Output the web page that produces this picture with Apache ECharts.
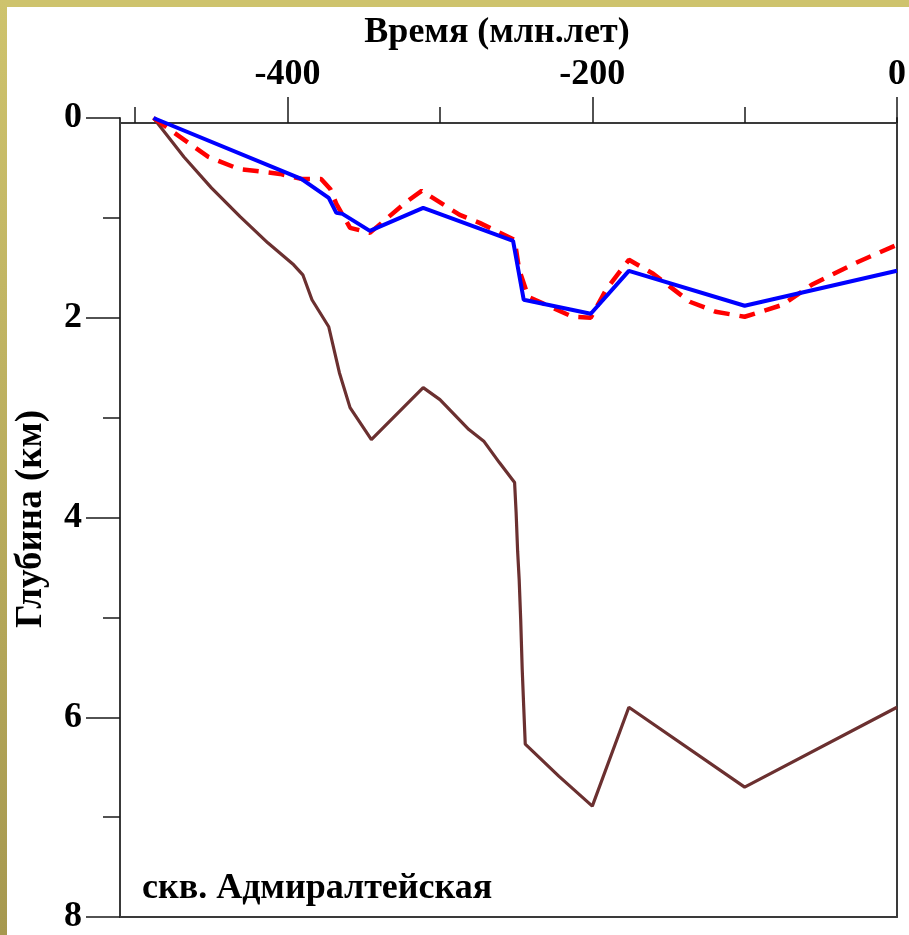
<!DOCTYPE html>
<html>
<head>
<meta charset="utf-8">
<script src="https://cdn.jsdelivr.net/npm/echarts@6/dist/echarts.min.js"></script>
<style>
html,body{margin:0;padding:0;background:#fff;}
#chart{width:909px;height:935px;}
</style>
</head>
<body>
<div id="chart"></div>
<script>
// ---- data (time in Ma, depth in km) ----
var xMajorTicks = [-400, -200, 0];
var xMinorTicks = [-500, -300, -100];
var yMajorTicks = [0, 2, 4, 6, 8];
var yMinorTicks = [1, 3, 5, 7];

var blueSeries = [
  [-488, 0], [-391, 0.61], [-373, 0.80], [-368, 0.95], [-364, 0.96], [-346, 1.13],
  [-311, 0.90], [-252, 1.23], [-245, 1.82], [-201, 1.96], [-176, 1.53], [-100, 1.88], [0, 1.53]
];
var redSeries = [
  [-488, 0], [-452, 0.39], [-432, 0.51], [-405, 0.56], [-391, 0.61], [-378, 0.61],
  [-372, 0.71], [-368, 0.86], [-359, 1.10], [-346, 1.15], [-322, 0.84], [-312, 0.73],
  [-287, 0.97], [-274, 1.05], [-251, 1.22], [-248, 1.52], [-242, 1.79], [-213, 1.99],
  [-201, 2.00], [-191, 1.72], [-176, 1.42], [-160, 1.56], [-136, 1.84], [-119, 1.94],
  [-100, 1.99], [-75, 1.87], [-56, 1.67], [-27, 1.45], [0, 1.27]
];
var brownSeries = [
  [-488, 0], [-468, 0.39], [-450, 0.70], [-431, 0.99], [-413, 1.25], [-396, 1.47],
  [-390, 1.57], [-384, 1.82], [-373, 2.09], [-366, 2.55], [-359, 2.90], [-345, 3.22],
  [-311, 2.70], [-300, 2.82], [-281, 3.12], [-271, 3.24], [-261, 3.45], [-251, 3.65],
  [-250, 3.95], [-249, 4.34], [-248, 4.62], [-247, 5.02], [-246, 5.52], [-245, 5.90],
  [-244, 6.27], [-222, 6.59], [-200, 6.89], [-176, 5.90], [-100, 6.70], [0, 5.90]
];
var xTitle = 'Время (млн.лет)';
var yTitle = 'Глубина (км)';
var wellLabel = 'скв. Адмиралтейская';

var FONT = "'Liberation Serif', 'Times New Roman', serif";
var chart = echarts.init(document.getElementById('chart'), null, {renderer: 'canvas'});

var AXIS_LINE = {show: true, onZero: false, lineStyle: {color: '#3a3a3a', width: 2}};
var NO_LINE = {show: false, onZero: false};
var TICK_STYLE = {color: '#1a1a1a', width: 1.5};
var LABEL_FONT = {fontFamily: FONT, fontWeight: 'bold', fontSize: 36, color: '#000'};

var xRange = {min: -510, max: 0};
var option = {
  backgroundColor: '#ffffff',
  animation: false,
  grid: {left: 120, right: 10.7, top: 118, bottom: 18, containLabel: false},
  xAxis: [
    {
      type: 'value', position: 'top', min: xRange.min, max: xRange.max, offset: -5,
      axisLine: AXIS_LINE,
      axisTick: {show: true, customValues: xMajorTicks, length: 26, lineStyle: TICK_STYLE},
      axisLabel: Object.assign({show: true, customValues: xMajorTicks, margin: 30}, LABEL_FONT),
      splitLine: {show: false}
    },
    {
      type: 'value', position: 'top', min: xRange.min, max: xRange.max, offset: -5,
      axisLine: NO_LINE,
      axisTick: {show: true, customValues: xMinorTicks, length: 16, lineStyle: TICK_STYLE},
      axisLabel: {show: false},
      splitLine: {show: false}
    },
    {
      type: 'value', position: 'bottom', min: xRange.min, max: xRange.max,
      axisLine: AXIS_LINE,
      axisTick: {show: false}, axisLabel: {show: false}, splitLine: {show: false}
    }
  ],
  yAxis: [
    {
      type: 'value', inverse: true, min: 0, max: 8, position: 'left',
      axisLine: AXIS_LINE,
      axisTick: {show: true, customValues: yMajorTicks, length: 34, lineStyle: TICK_STYLE},
      axisLabel: Object.assign({show: true, customValues: yMajorTicks, margin: 38}, LABEL_FONT),
      splitLine: {show: false}
    },
    {
      type: 'value', inverse: true, min: 0, max: 8, position: 'left',
      axisLine: NO_LINE,
      axisTick: {show: true, customValues: yMinorTicks, length: 17, lineStyle: TICK_STYLE},
      axisLabel: {show: false}, splitLine: {show: false}
    },
    {
      type: 'value', inverse: true, min: 0, max: 8, position: 'right',
      axisLine: AXIS_LINE,
      axisTick: {show: false}, axisLabel: {show: false}, splitLine: {show: false}
    }
  ],
  series: [
    {type: 'line', name: 'brown', data: brownSeries, xAxisIndex: 0, yAxisIndex: 0,
      showSymbol: false, lineStyle: {color: '#6b3030', width: 3.2}, z: 2},
    {type: 'line', name: 'red', data: redSeries, xAxisIndex: 0, yAxisIndex: 0,
      showSymbol: false, lineStyle: {color: '#ff0000', width: 4.5, type: [16, 10]}, z: 3},
    {type: 'line', name: 'blue', data: blueSeries, xAxisIndex: 0, yAxisIndex: 0,
      showSymbol: false, lineStyle: {color: '#0000ff', width: 4}, z: 4}
  ],
  graphic: [
    {type: 'rect', left: 0, top: 0, z: 100, shape: {width: 909, height: 7},
      style: {fill: '#cec36d'}},
    {type: 'rect', left: 0, top: 0, z: 100, shape: {width: 7, height: 935},
      style: {fill: new echarts.graphic.LinearGradient(0, 0, 0, 1, [
        {offset: 0, color: '#cec36d'}, {offset: 1, color: '#a6984f'}])}},
    {type: 'text', z: 50, x: 497, y: 33,
      style: {text: xTitle, fill: '#000', font: 'bold 36px ' + FONT, align: 'center', verticalAlign: 'middle'}},
    {type: 'text', z: 50, x: 31, y: 519, rotation: Math.PI / 2,
      style: {text: yTitle, fill: '#000', font: 'bold 37px ' + FONT,
        align: 'center', verticalAlign: 'middle'}},
    {type: 'text', z: 50, x: 142, y: 889,
      style: {text: wellLabel, fill: '#000', font: 'bold 36px ' + FONT,
        align: 'left', verticalAlign: 'middle'}}
  ]
};
chart.setOption(option);
</script>
</body>
</html>
